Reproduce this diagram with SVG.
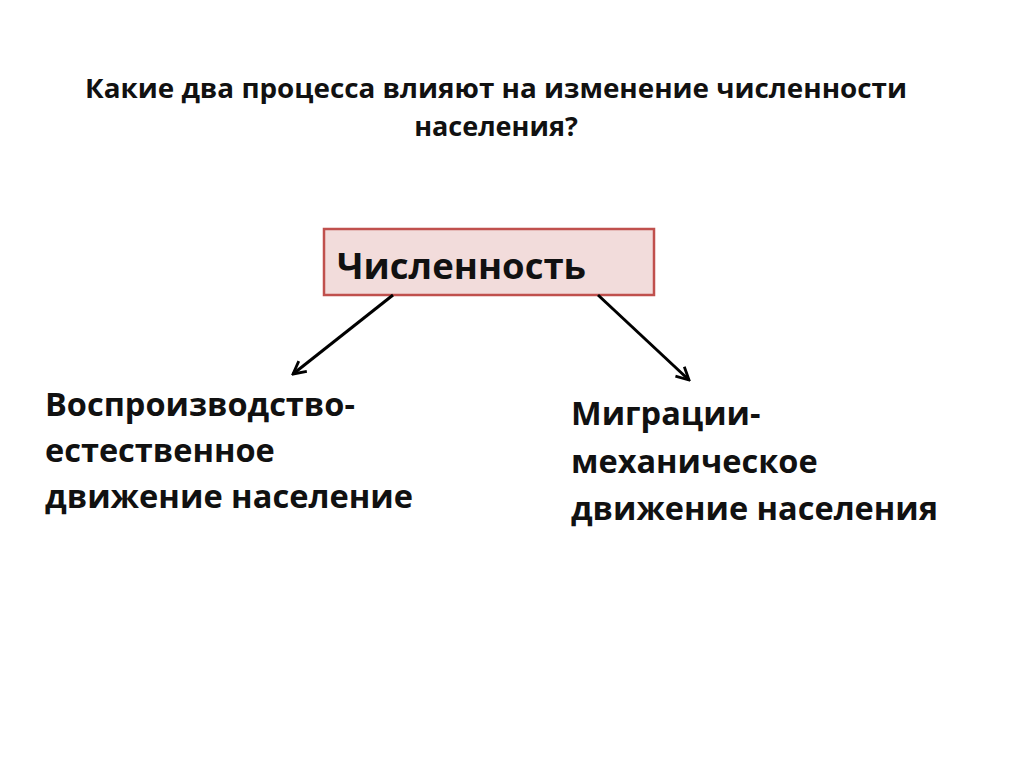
<svg xmlns="http://www.w3.org/2000/svg" width="1024" height="767" viewBox="0 0 1024 767">
<defs>
<style>
text{font-family:"Open Sans","Liberation Sans",sans-serif;font-weight:bold;fill:#111}
.t{font-size:27px}
.b{font-size:32.5px}
.c{font-size:36.5px}
.con{stroke:#000;stroke-width:3;fill:none}
</style>
<marker id="ah" viewBox="0 0 16 16" refX="14.5" refY="8" markerWidth="16" markerHeight="16" markerUnits="userSpaceOnUse" orient="auto">
<path d="M2,1.5 L14.5,8 L2,14.5" fill="none" stroke="#000" stroke-width="2.8"/>
</marker>
</defs>
<rect x="0" y="0" width="1024" height="767" fill="#fff"/>
<g id="title">
<text class="t" x="85" y="98" textLength="822" lengthAdjust="spacingAndGlyphs">Какие два процесса влияют на изменение численности</text>
<text class="t" x="496" y="136" text-anchor="middle">населения?</text>
</g>
<g id="node-count">
<rect x="324" y="229" width="330" height="66" fill="#f2dcdb" stroke="#c0504d" stroke-width="2.5"/>
<text class="c" x="337" y="279" textLength="249" lengthAdjust="spacingAndGlyphs">Численность</text>
</g>
<g id="node-left">
<text class="b" x="45" y="416">Воспроизводство-</text>
<text class="b" x="45" y="462">естественное</text>
<text class="b" x="45" y="508" textLength="368" lengthAdjust="spacingAndGlyphs">движение население</text>
</g>
<g id="node-right">
<text class="b" x="571" y="425">Миграции-</text>
<text class="b" x="571" y="473">механическое</text>
<text class="b" x="571" y="520" textLength="367" lengthAdjust="spacingAndGlyphs">движение населения</text>
</g>
<g id="connectors">
<line class="con" x1="393" y1="295" x2="293" y2="374" marker-end="url(#ah)"/>
<line class="con" x1="598" y1="295" x2="689" y2="380" marker-end="url(#ah)"/>
</g>
</svg>
